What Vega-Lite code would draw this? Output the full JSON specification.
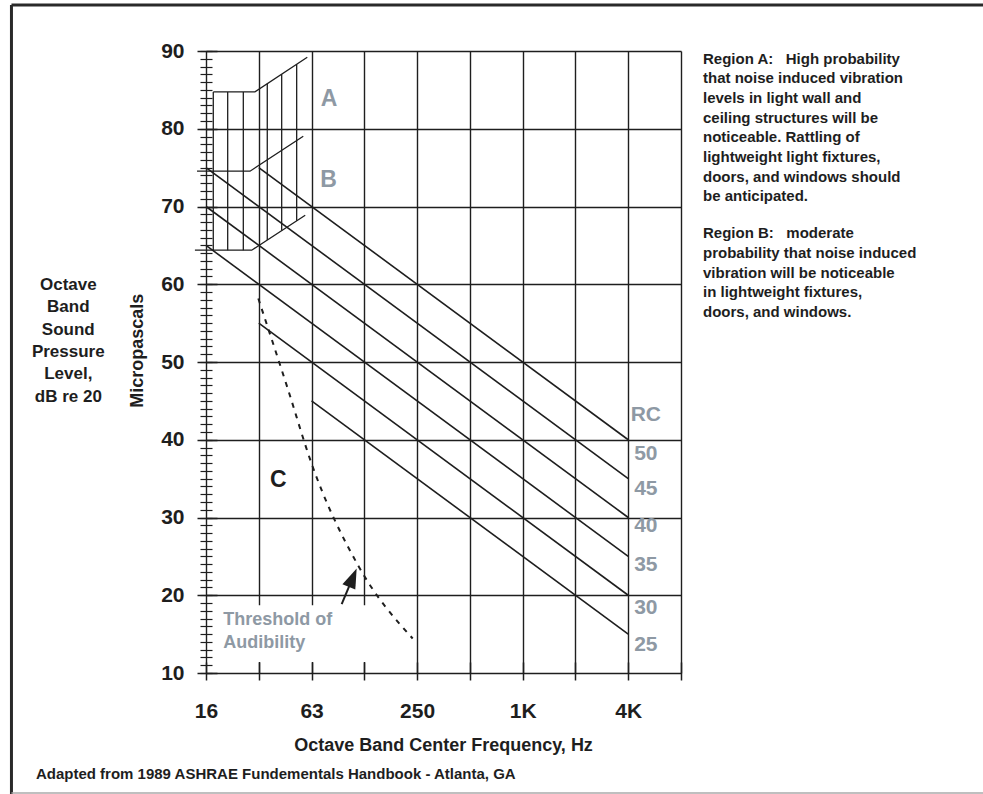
{
  "$schema": "https://vega.github.io/schema/vega-lite/v6.json",
  "width": 475,
  "height": 622,
  "autosize": {"type": "none"},
  "padding": {"left": 206, "top": 51, "right": 302, "bottom": 121},
  "background": "white",
  "config": {"view": {"stroke": null}, "font": "Liberation Sans"},
  "datasets": {
    "rc": [
      {"rc": "50", "f": 1, "spl": 75}, {"rc": "50", "f": 8, "spl": 40},
      {"rc": "45", "f": 0, "spl": 75}, {"rc": "45", "f": 8, "spl": 35},
      {"rc": "40", "f": 0, "spl": 70}, {"rc": "40", "f": 8, "spl": 30},
      {"rc": "35", "f": 0, "spl": 65}, {"rc": "35", "f": 8, "spl": 25},
      {"rc": "30", "f": 1, "spl": 55}, {"rc": "30", "f": 8, "spl": 20},
      {"rc": "25", "f": 2, "spl": 45}, {"rc": "25", "f": 8, "spl": 15}
    ],
    "outline": [
      {"seg": "A", "f": 0.138, "spl": 84.74}, {"seg": "A", "f": 0.928, "spl": 84.74}, {"seg": "A", "f": 1.919, "spl": 89.19},
      {"seg": "B", "f": -0.17, "spl": 74.54}, {"seg": "B", "f": 0.834, "spl": 74.54}, {"seg": "B", "f": 1.843, "spl": 79.04},
      {"seg": "C", "f": -0.21, "spl": 64.38}, {"seg": "C", "f": 0.866, "spl": 64.38}, {"seg": "C", "f": 1.88, "spl": 68.88}
    ],
    "hatch": [
      {"f": 0.138, "top": 84.74, "bot": 64.38},
      {"f": 0.411, "top": 84.74, "bot": 64.38},
      {"f": 0.707, "top": 84.74, "bot": 64.38},
      {"f": 1.161, "top": 85.79, "bot": 65.7},
      {"f": 1.434, "top": 87.02, "bot": 66.91},
      {"f": 1.718, "top": 88.3, "bot": 68.18}
    ],
    "threshold": [
      {"f": 0.991, "spl": 58.17}, {"f": 1.548, "spl": 46.59}, {"f": 2.0, "spl": 36.94},
      {"f": 2.88, "spl": 23.86}, {"f": 3.916, "spl": 14.44}
    ],
    "box": [{"f1": 0.12, "f2": 3.75, "s1": 11.43, "s2": 18.72}],
    "arrow": [{"f1": 2.571, "s1": 18.85, "f2": 2.781, "s2": 22.26}],
    "txt": [
      {"k": "grayBig", "t": "A", "f": 2.33, "s": 83.89},
      {"k": "grayBig", "t": "B", "f": 2.32, "s": 73.38},
      {"k": "blackBig", "t": "C", "f": 1.371, "s": 34.8},
      {"k": "rc", "t": "RC", "f": 8.334, "s": 43.2},
      {"k": "rc", "t": "50", "f": 8.334, "s": 38.2},
      {"k": "rc", "t": "45", "f": 8.334, "s": 33.7},
      {"k": "rc", "t": "40", "f": 8.334, "s": 28.9},
      {"k": "rc", "t": "35", "f": 8.334, "s": 23.85},
      {"k": "rc", "t": "30", "f": 8.334, "s": 18.4},
      {"k": "rc", "t": "25", "f": 8.334, "s": 13.6},
      {"k": "thr", "t": "Threshold of", "f": 0.328, "s": 16.83},
      {"k": "thr", "t": "Audibility", "f": 0.328, "s": 13.87},
      {"k": "left", "t": "Octave", "f": -2.609, "s": 59.88},
      {"k": "left", "t": "Band", "f": -2.609, "s": 57.01},
      {"k": "left", "t": "Sound", "f": -2.609, "s": 54.14},
      {"k": "left", "t": "Pressure", "f": -2.609, "s": 51.27},
      {"k": "left", "t": "Level,", "f": -2.609, "s": 48.41},
      {"k": "left", "t": "dB re 20", "f": -2.609, "s": 45.54},
      {"k": "micro", "t": "Micropascals", "f": -1.288, "s": 51.45},
      {"k": "right", "t": "Region A:\u00a0\u00a0\u00a0High probability", "f": 9.417, "s": 88.39},
      {"k": "right", "t": "that noise induced vibration", "f": 9.417, "s": 85.86},
      {"k": "right", "t": "levels in light wall and", "f": 9.417, "s": 83.32},
      {"k": "right", "t": "ceiling structures will be", "f": 9.417, "s": 80.79},
      {"k": "right", "t": "noticeable. Rattling of", "f": 9.417, "s": 78.26},
      {"k": "right", "t": "lightweight light fixtures,", "f": 9.417, "s": 75.72},
      {"k": "right", "t": "doors, and windows should", "f": 9.417, "s": 73.19},
      {"k": "right", "t": "be anticipated.", "f": 9.417, "s": 70.66},
      {"k": "right", "t": "Region B:\u00a0\u00a0\u00a0moderate", "f": 9.417, "s": 65.92},
      {"k": "right", "t": "probability that noise induced", "f": 9.417, "s": 63.38},
      {"k": "right", "t": "vibration will be noticeable", "f": 9.417, "s": 60.85},
      {"k": "right", "t": "in lightweight fixtures,", "f": 9.417, "s": 58.31},
      {"k": "right", "t": "doors, and windows.", "f": 9.417, "s": 55.78},
      {"k": "xtitle", "t": "Octave Band Center Frequency, Hz", "f": 4.5, "s": 0.59},
      {"k": "footer", "t": "Adapted from 1989 ASHRAE Fundementals Handbook - Atlanta, GA", "f": -3.223, "s": -2.94}
    ],
    "frame": [
      {"side": "top", "f1": -3.686, "f2": 14.73, "s1": 95.93, "s2": 95.93},
      {"side": "left", "f1": -3.686, "f2": -3.686, "s1": 95.93, "s2": -5.6}
    ],
    "frameBottom": [
      {"side": "bottom", "f1": -3.686, "f2": 14.73, "s1": -5.42, "s2": -5.42}
    ]
  },
  "layer": [
    {
      "data": {"name": "box"},
      "mark": {"type": "rect", "fill": "white", "strokeWidth": 0},
      "encoding": {
        "x": {"field": "f1", "type": "quantitative", "scale": {"domain": [0, 9], "nice": false, "zero": false},
              "axis": {"orient": "bottom", "values": [0,1,2,3,4,5,6,7,8,9], "grid": true, "gridColor": "#1e1e1e", "gridWidth": 1.4, "gridOpacity": 1, "ticks": false, "labels": false, "domain": false, "title": null, "zindex": 0}},
        "x2": {"field": "f2"},
        "y": {"field": "s1", "type": "quantitative", "scale": {"domain": [10, 90], "nice": false, "zero": false},
              "axis": {"orient": "left", "values": [10,20,30,40,50,60,70,80,90], "grid": true, "gridColor": "#1e1e1e", "gridWidth": 1.4, "gridOpacity": 1, "ticks": false, "labels": false, "domain": false, "title": null, "zindex": 0}},
        "y2": {"field": "s2"}
      }
    },
    {
      "data": {"name": "threshold"},
      "mark": {"type": "line", "color": "#1e1e1e", "strokeWidth": 2, "strokeDash": [5, 6], "interpolate": "monotone"},
      "encoding": {
        "x": {"field": "f", "type": "quantitative", "scale": {"domain": [0, 9], "nice": false, "zero": false}, "axis": null},
        "y": {"field": "spl", "type": "quantitative", "scale": {"domain": [10, 90], "nice": false, "zero": false}, "axis": null}
      }
    },
    {
      "data": {"name": "outline"},
      "mark": {"type": "line", "color": "#1e1e1e", "strokeWidth": 1.3},
      "encoding": {
        "x": {"field": "f", "type": "quantitative", "scale": {"domain": [0, 9], "nice": false, "zero": false}, "axis": null},
        "y": {"field": "spl", "type": "quantitative", "scale": {"domain": [10, 90], "nice": false, "zero": false}, "axis": null},
        "detail": {"field": "seg"}
      }
    },
    {
      "data": {"name": "hatch"},
      "mark": {"type": "rule", "color": "#1e1e1e", "strokeWidth": 1.3},
      "encoding": {
        "x": {"field": "f", "type": "quantitative", "scale": {"domain": [0, 9], "nice": false, "zero": false},
              "axis": {"orient": "bottom", "values": [0,1,2,3,4,5,6,7,8,9], "offset": -11, "tickSize": 18, "tickWidth": 1.5, "tickColor": "#1e1e1e", "domain": false, "grid": false,
                       "labelExpr": "datum.value == 0 ? '16' : datum.value == 2 ? '63' : datum.value == 4 ? '250' : datum.value == 6 ? '1K' : datum.value == 8 ? '4K' : ''",
                       "labelFont": "Liberation Sans", "labelFontSize": 21, "labelFontWeight": "bold", "labelColor": "#1e1e1e", "labelPadding": 20,
                       "labelOverlap": false, "labelFlush": false, "title": null, "zindex": 1}},
        "y": {"field": "top", "type": "quantitative", "scale": {"domain": [10, 90], "nice": false, "zero": false},
              "axis": {"orient": "left", "values": [10,20,30,40,50,60,70,80,90], "offset": -11, "tickSize": 20, "tickWidth": 1.5, "tickColor": "#1e1e1e", "domain": false, "grid": false,
                       "labelFont": "Liberation Sans", "labelFontSize": 21, "labelFontWeight": "bold", "labelColor": "#1e1e1e", "labelPadding": 13,
                       "labelOverlap": false, "labelFlush": false, "title": null, "zindex": 1}},
        "y2": {"field": "bot"}
      }
    },
    {
      "data": {"name": "rc"},
      "mark": {"type": "line", "color": "#1e1e1e", "strokeWidth": 1.6},
      "encoding": {
        "x": {"field": "f", "type": "quantitative", "scale": {"domain": [0, 9], "nice": false, "zero": false}, "axis": null},
        "y": {"field": "spl", "type": "quantitative", "scale": {"domain": [10, 90], "nice": false, "zero": false},
              "axis": {"orient": "left", "values": [10,11,12,13,14,15,16,17,18,19,20,21,22,23,24,25,26,27,28,29,30,31,32,33,34,35,36,37,38,39,40,41,42,43,44,45,46,47,48,49,50,51,52,53,54,55,56,57,58,59,60,61,62,63,64,65,66,67,68,69,70,71,72,73,74,75,76,77,78,79,80,81,82,83,84,85,86,87,88,89,90],
                       "offset": -6, "tickSize": 12, "tickWidth": 1.2, "tickColor": "#1e1e1e", "labels": false, "domain": false, "grid": false, "title": null, "zindex": 1}},
        "detail": {"field": "rc"}
      }
    },
    {
      "data": {"name": "arrow"},
      "mark": {"type": "rule", "color": "#1e1e1e", "strokeWidth": 2},
      "encoding": {
        "x": {"field": "f1", "type": "quantitative", "scale": {"domain": [0, 9], "nice": false, "zero": false}, "axis": null},
        "x2": {"field": "f2"},
        "y": {"field": "s1", "type": "quantitative", "scale": {"domain": [10, 90], "nice": false, "zero": false}, "axis": null},
        "y2": {"field": "s2"}
      }
    },
    {
      "data": {"name": "arrow"},
      "mark": {"type": "point", "shape": "M0,-1L0.7,1L-0.7,1Z", "filled": true, "color": "#1e1e1e", "opacity": 1, "size": 400, "angle": 23},
      "encoding": {
        "x": {"field": "f2", "type": "quantitative", "scale": {"domain": [0, 9], "nice": false, "zero": false}, "axis": null},
        "y": {"field": "s2", "type": "quantitative", "scale": {"domain": [10, 90], "nice": false, "zero": false}, "axis": null}
      }
    },
    {
      "data": {"name": "txt"},
      "transform": [{"filter": "datum.k == 'grayBig'"}],
      "mark": {"type": "text", "font": "Liberation Sans", "fontWeight": "bold", "fontSize": 23, "color": "#8e99a4", "align": "center", "baseline": "middle"},
      "encoding": {
        "x": {"field": "f", "type": "quantitative", "scale": {"domain": [0, 9], "nice": false, "zero": false}, "axis": null},
        "y": {"field": "s", "type": "quantitative", "scale": {"domain": [10, 90], "nice": false, "zero": false}, "axis": null},
        "text": {"field": "t"}
      }
    },
    {
      "data": {"name": "txt"},
      "transform": [{"filter": "datum.k == 'blackBig'"}],
      "mark": {"type": "text", "font": "Liberation Sans", "fontWeight": "bold", "fontSize": 23, "color": "#1e1e1e", "align": "center", "baseline": "middle"},
      "encoding": {
        "x": {"field": "f", "type": "quantitative", "scale": {"domain": [0, 9], "nice": false, "zero": false}, "axis": null},
        "y": {"field": "s", "type": "quantitative", "scale": {"domain": [10, 90], "nice": false, "zero": false}, "axis": null},
        "text": {"field": "t"}
      }
    },
    {
      "data": {"name": "txt"},
      "transform": [{"filter": "datum.k == 'rc'"}],
      "mark": {"type": "text", "font": "Liberation Sans", "fontWeight": "bold", "fontSize": 21, "color": "#8e99a4", "align": "center", "baseline": "middle"},
      "encoding": {
        "x": {"field": "f", "type": "quantitative", "scale": {"domain": [0, 9], "nice": false, "zero": false}, "axis": null},
        "y": {"field": "s", "type": "quantitative", "scale": {"domain": [10, 90], "nice": false, "zero": false}, "axis": null},
        "text": {"field": "t"}
      }
    },
    {
      "data": {"name": "txt"},
      "transform": [{"filter": "datum.k == 'thr'"}],
      "mark": {"type": "text", "font": "Liberation Sans", "fontWeight": "bold", "fontSize": 18, "color": "#8e99a4", "align": "left", "baseline": "middle"},
      "encoding": {
        "x": {"field": "f", "type": "quantitative", "scale": {"domain": [0, 9], "nice": false, "zero": false}, "axis": null},
        "y": {"field": "s", "type": "quantitative", "scale": {"domain": [10, 90], "nice": false, "zero": false}, "axis": null},
        "text": {"field": "t"}
      }
    },
    {
      "data": {"name": "txt"},
      "transform": [{"filter": "datum.k == 'left'"}],
      "mark": {"type": "text", "font": "Liberation Sans", "fontWeight": "bold", "fontSize": 17, "color": "#1e1e1e", "align": "center", "baseline": "middle"},
      "encoding": {
        "x": {"field": "f", "type": "quantitative", "scale": {"domain": [0, 9], "nice": false, "zero": false}, "axis": null},
        "y": {"field": "s", "type": "quantitative", "scale": {"domain": [10, 90], "nice": false, "zero": false}, "axis": null},
        "text": {"field": "t"}
      }
    },
    {
      "data": {"name": "txt"},
      "transform": [{"filter": "datum.k == 'micro'"}],
      "mark": {"type": "text", "font": "Liberation Sans", "fontWeight": "bold", "fontSize": 18, "color": "#1e1e1e", "align": "center", "baseline": "middle", "angle": 270},
      "encoding": {
        "x": {"field": "f", "type": "quantitative", "scale": {"domain": [0, 9], "nice": false, "zero": false}, "axis": null},
        "y": {"field": "s", "type": "quantitative", "scale": {"domain": [10, 90], "nice": false, "zero": false}, "axis": null},
        "text": {"field": "t"}
      }
    },
    {
      "data": {"name": "txt"},
      "transform": [{"filter": "datum.k == 'right'"}],
      "mark": {"type": "text", "font": "Liberation Sans", "fontWeight": "bold", "fontSize": 15, "color": "#1e1e1e", "align": "left", "baseline": "alphabetic"},
      "encoding": {
        "x": {"field": "f", "type": "quantitative", "scale": {"domain": [0, 9], "nice": false, "zero": false}, "axis": null},
        "y": {"field": "s", "type": "quantitative", "scale": {"domain": [10, 90], "nice": false, "zero": false}, "axis": null},
        "text": {"field": "t"}
      }
    },
    {
      "data": {"name": "txt"},
      "transform": [{"filter": "datum.k == 'xtitle'"}],
      "mark": {"type": "text", "font": "Liberation Sans", "fontWeight": "bold", "fontSize": 18, "color": "#1e1e1e", "align": "center", "baseline": "middle"},
      "encoding": {
        "x": {"field": "f", "type": "quantitative", "scale": {"domain": [0, 9], "nice": false, "zero": false}, "axis": null},
        "y": {"field": "s", "type": "quantitative", "scale": {"domain": [10, 90], "nice": false, "zero": false}, "axis": null},
        "text": {"field": "t"}
      }
    },
    {
      "data": {"name": "txt"},
      "transform": [{"filter": "datum.k == 'footer'"}],
      "mark": {"type": "text", "font": "Liberation Sans", "fontWeight": "bold", "fontSize": 15, "color": "#1e1e1e", "align": "left", "baseline": "middle"},
      "encoding": {
        "x": {"field": "f", "type": "quantitative", "scale": {"domain": [0, 9], "nice": false, "zero": false}, "axis": null},
        "y": {"field": "s", "type": "quantitative", "scale": {"domain": [10, 90], "nice": false, "zero": false}, "axis": null},
        "text": {"field": "t"}
      }
    },
    {
      "data": {"name": "frame"},
      "mark": {"type": "rule", "color": "#2a2a2a", "strokeWidth": 3},
      "encoding": {
        "x": {"field": "f1", "type": "quantitative", "scale": {"domain": [0, 9], "nice": false, "zero": false}, "axis": null},
        "x2": {"field": "f2"},
        "y": {"field": "s1", "type": "quantitative", "scale": {"domain": [10, 90], "nice": false, "zero": false}, "axis": null},
        "y2": {"field": "s2"}
      }
    },
    {
      "data": {"name": "frameBottom"},
      "mark": {"type": "rule", "color": "#aaaaaa", "strokeWidth": 1.5},
      "encoding": {
        "x": {"field": "f1", "type": "quantitative", "scale": {"domain": [0, 9], "nice": false, "zero": false}, "axis": null},
        "x2": {"field": "f2"},
        "y": {"field": "s1", "type": "quantitative", "scale": {"domain": [10, 90], "nice": false, "zero": false}, "axis": null},
        "y2": {"field": "s2"}
      }
    }
  ],
  "resolve": {"axis": {"x": "independent", "y": "independent"}}
}
